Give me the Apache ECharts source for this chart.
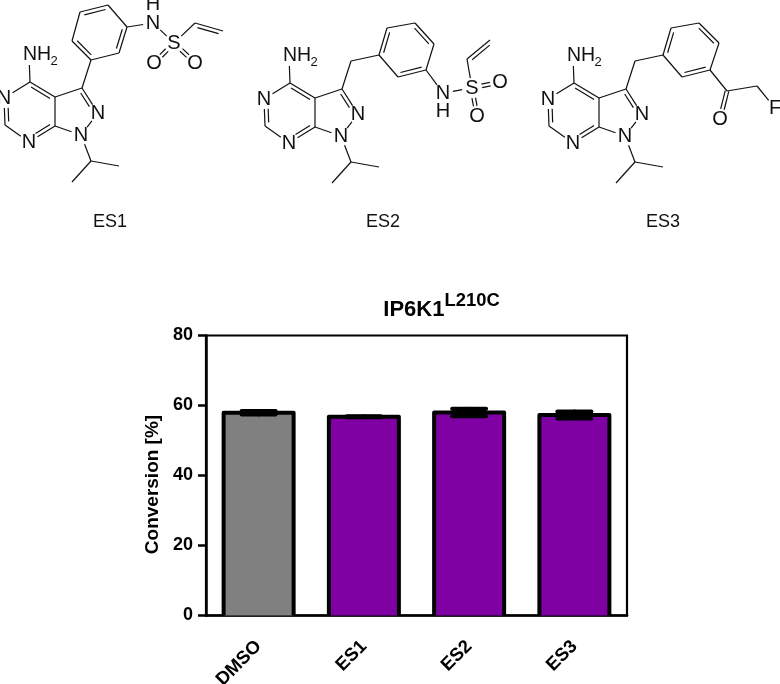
<!DOCTYPE html>
<html><head><meta charset="utf-8">
<style>html,body{margin:0;padding:0;background:#fff}#c{width:780px;height:684px}</style>
<script src="https://cdn.jsdelivr.net/npm/echarts@6/dist/echarts.min.js"></script>
</head><body><div id="c"></div>
<script>
var categories = ['DMSO', 'ES1', 'ES2', 'ES3'];
var conversion = [57.9, 56.8, 58.0, 57.3];
var errors = [0.5, 0.15, 1.1, 1.0];
var barColors = ['#808080', '#7F00A3', '#7F00A3', '#7F00A3'];
var yTicks = [0, 20, 40, 60, 80];
var compoundNames = ['ES1', 'ES2', 'ES3'];

var FONT = '"Liberation Sans", Arial, sans-serif';
var INK = '#111';

// Shared heteroaromatic core drawn for each compound (pixel layout of the illustration)
function core(dx, dy) {
  var p = {
    c4: [30, 82], n5: [4, 98], c6: [5, 125], n7: [29, 142], c7a: [55, 126], c3a: [55, 97],
    c3: [82, 88], n2: [98, 113], n1: [81, 135], ch: [91, 161], me1: [72, 182], me2: [119, 166],
    nh2: [29, 55]
  };
  var out = {};
  for (var k in p) out[k] = [p[k][0] + dx, p[k][1] + dy];
  return out;
}
var pyr = ['c4', 'n5', 'c6', 'n7', 'c7a', 'c3a'];
var pzl = ['c3', 'n2', 'n1', 'c7a', 'c3a'];
var coreLabels = { n5: 'N', n7: 'N', n2: 'N', n1: 'N' };
var coreBonds = [
  ['c4', 'n5', 1], ['n5', 'c6', 2, pyr], ['c6', 'n7', 1], ['n7', 'c7a', 2, pyr], ['c7a', 'c3a', 1],
  ['c3a', 'c4', 2, pyr], ['c3a', 'c3', 1], ['c3', 'n2', 2, pzl], ['n2', 'n1', 1], ['n1', 'c7a', 1],
  ['n1', 'ch', 1], ['ch', 'me1', 1], ['ch', 'me2', 1], ['c4', 'nh2', 1]
];
var ph = ['a', 'b', 'c', 'd', 'e', 'f'];
var phBonds = [
  ['a', 'b', 2, ph], ['b', 'c', 1], ['c', 'd', 2, ph], ['d', 'e', 1], ['e', 'f', 2, ph], ['f', 'a', 1]
];
var molecules = [
  { dx: 0, dy: 0, name: [110, 222],
    atoms: { a: [91, 60], b: [72, 41], c: [80, 12], d: [108, 5], e: [127, 27], f: [119, 53],
             n: [153, 23], s: [174, 43], o1: [154, 63], o2: [195, 63], v1: [195, 23], v2: [223, 31] },
    labels: { n: 'N', s: 'S', o1: 'O', o2: 'O' }, extra: [['H', 153, 4]],
    bonds: [['c3', 'a', 1], ['e', 'n', 1], ['n', 's', 1], ['s', 'o1', 2, 'c'], ['s', 'o2', 2, 'c'], ['s', 'v1', 1], ['v1', 'v2', 2, [[205, 40]]]] },
  { dx: 260, dy: 1, name: [383, 222],
    atoms: { ch2: [351, 61], a: [379, 55], b: [387, 28], c: [415, 23], d: [434, 44], e: [426, 70], f: [398, 77],
             n: [443, 93], s: [472, 88], o1: [500, 82], o2: [477, 116], v1: [467, 59], v2: [490, 40] },
    labels: { n: 'N', s: 'S', o1: 'O', o2: 'O' }, extra: [['H', 443, 111]],
    bonds: [['c3', 'ch2', 1], ['ch2', 'a', 1], ['e', 'n', 1], ['n', 's', 1], ['s', 'o1', 2, 'c'], ['s', 'o2', 2, 'c'], ['s', 'v1', 1], ['v1', 'v2', 2, [[500, 60]]]] },
  { dx: 544, dy: 1, name: [663, 222],
    atoms: { ch2: [635, 61], a: [663, 55], b: [671, 28], c: [699, 23], d: [719, 43], e: [710, 70], f: [682, 77],
             co: [727, 91], o: [720, 119], ch2f: [757, 86], F: [775, 108] },
    labels: { o: 'O', F: 'F' }, extra: [],
    bonds: [['c3', 'ch2', 1], ['ch2', 'a', 1], ['e', 'co', 1], ['co', 'o', 2, 'c'], ['co', 'ch2f', 1], ['ch2f', 'F', 1]] }
];

function seg(a, b) {
  return { type: 'line', silent: true, z: 5,
    shape: { x1: a[0], y1: a[1], x2: b[0], y2: b[1] },
    style: { stroke: INK, lineWidth: 1.2 } };
}
function txt(s, x, y, size, align) {
  return { type: 'text', silent: true, z: 6, x: x, y: y,
    style: { text: s, fill: INK, fontFamily: FONT, fontSize: size, align: align || 'center', verticalAlign: 'middle' } };
}
function trim(a, b, ta, tb) {
  var dx = b[0] - a[0], dy = b[1] - a[1], L = Math.hypot(dx, dy);
  return [[a[0] + dx * ta / L, a[1] + dy * ta / L], [b[0] - dx * tb / L, b[1] - dy * tb / L]];
}
function moleculeGraphics(m) {
  var P = Object.assign(core(m.dx, m.dy), m.atoms);
  var labels = Object.assign({}, coreLabels, m.labels, { nh2: 'NH' });
  var els = [];
  coreBonds.concat(phBonds, m.bonds).forEach(function (bd) {
    var a = P[bd[0]], b = P[bd[1]];
    var ta = labels[bd[0]] ? 10 : 0, tb = labels[bd[1]] ? 10 : 0;
    var s = trim(a, b, ta, tb);
    if (bd[2] === 1) { els.push(seg(s[0], s[1])); return; }
    var dx = b[0] - a[0], dy = b[1] - a[1], L = Math.hypot(dx, dy);
    var nx = -dy / L, ny = dx / L;
    if (bd[3] === 'c') {
      var o = 1.8;
      els.push(seg([s[0][0] + nx * o, s[0][1] + ny * o], [s[1][0] + nx * o, s[1][1] + ny * o]));
      els.push(seg([s[0][0] - nx * o, s[0][1] - ny * o], [s[1][0] - nx * o, s[1][1] - ny * o]));
      return;
    }
    els.push(seg(s[0], s[1]));
    var pts = bd[3].map(function (k) { return typeof k === 'string' ? P[k] : k; });
    var cx = 0, cy = 0;
    pts.forEach(function (q) { cx += q[0]; cy += q[1]; });
    cx /= pts.length; cy /= pts.length;
    var side = ((cx - a[0]) * nx + (cy - a[1]) * ny) > 0 ? 1 : -1;
    var off = 3.8 * side;
    var s2 = trim(a, b, Math.max(ta, 3.5), Math.max(tb, 3.5));
    els.push(seg([s2[0][0] + nx * off, s2[0][1] + ny * off], [s2[1][0] + nx * off, s2[1][1] + ny * off]));
  });
  Object.keys(labels).forEach(function (k) {
    if (!P[k]) return;
    if (k === 'nh2') {
      els.push(txt('NH', P[k][0] - 6, P[k][1], 19.5, 'left'));
      els.push(txt('2', P[k][0] + 21.5, P[k][1] + 6, 13, 'left'));
    } else {
      els.push(txt(labels[k], P[k][0], P[k][1], 20));
    }
  });
  m.extra.forEach(function (e) { els.push(txt(e[0], e[1], e[2], 20)); });
  return els;
}
var structureGraphics = [];
molecules.forEach(function (m, i) {
  structureGraphics = structureGraphics.concat(moleculeGraphics(m));
  structureGraphics.push(txt(compoundNames[i], m.name[0], m.name[1], 18));
});

var chart = echarts.init(document.getElementById('c'), null, { renderer: 'canvas' });
chart.setOption({
  animation: false,
  backgroundColor: '#fff',
  title: {
    text: '{a|IP6K1}{b|L210C}', left: 436.5, top: 288, textAlign: 'center',
    textStyle: { rich: {
      a: { fontFamily: FONT, fontWeight: 'bold', fontSize: 22, color: '#000', lineHeight: 28, padding: [6, 0, 0, 0] },
      b: { fontFamily: FONT, fontWeight: 'bold', fontSize: 18.4, color: '#000', lineHeight: 22, padding: [0, 0, 12, 0] }
    } }
  },
  grid: { left: 206, right: 153, top: 335.5, bottom: 68.5, outerBoundsMode: 'none', show: true, borderColor: '#000', borderWidth: 2.2, backgroundColor: 'transparent' },
  xAxis: {
    type: 'category', data: categories,
    axisLine: { lineStyle: { color: '#000', width: 2.5 } },
    axisTick: { alignWithLabel: true, length: 8, lineStyle: { color: '#000', width: 2.5 } },
    axisLabel: { rotate: 45, color: '#000', fontFamily: FONT, fontWeight: 'bold', fontSize: 18.5, margin: 28, interval: 0 }
  },
  yAxis: {
    type: 'value', min: yTicks[0], max: yTicks[yTicks.length - 1], interval: 20,
    name: 'Conversion [%]', nameLocation: 'middle', nameGap: 39,
    nameTextStyle: { color: '#000', fontFamily: FONT, fontWeight: 'bold', fontSize: 19, padding: [0, 18, 0, 0] },
    splitLine: { show: false },
    axisLine: { show: true, lineStyle: { color: '#000', width: 2.5 } },
    axisTick: { show: true, length: 8, lineStyle: { color: '#000', width: 2.5 } },
    axisLabel: { color: '#000', fontFamily: FONT, fontWeight: 'bold', fontSize: 18, margin: 13 }
  },
  series: [
    {
      type: 'bar', barWidth: 70,
      data: conversion.map(function (v, i) {
        return { value: v, itemStyle: { color: barColors[i] } };
      }),
      z: 2
    },
    {
      // bar outlines centred on the bar edge, plus the error bars
      type: 'custom', z: 3,
      data: conversion.map(function (v, i) { return [i, v, v - errors[i], v + errors[i]]; }),
      encode: { x: 0, y: [1, 2, 3] },
      renderItem: function (params, api) {
        var base = api.coord([api.value(0), 0]);
        var top = api.coord([api.value(0), api.value(1)]);
        var lo = api.coord([api.value(0), api.value(2)]);
        var hi = api.coord([api.value(0), api.value(3)]);
        var w = 17, hw = 35;
        var style = { stroke: '#000', lineWidth: 4, lineCap: 'round' };
        return { type: 'group', children: [
          { type: 'polyline',
            shape: { points: [[base[0] - hw, base[1]], [base[0] - hw, top[1]], [base[0] + hw, top[1]], [base[0] + hw, base[1]]] },
            style: { stroke: '#000', lineWidth: 4, lineJoin: 'round', lineCap: 'butt', fill: 'none' } },
          { type: 'line', shape: { x1: hi[0], y1: hi[1], x2: lo[0], y2: lo[1] }, style: style },
          { type: 'line', shape: { x1: hi[0] - w, y1: hi[1], x2: hi[0] + w, y2: hi[1] }, style: style },
          { type: 'line', shape: { x1: lo[0] - w, y1: lo[1], x2: lo[0] + w, y2: lo[1] }, style: style },
          { type: 'rect', shape: { x: hi[0] - w, y: hi[1], width: 2 * w, height: lo[1] - hi[1] }, style: { fill: '#000' } }
        ] };
      }
    }
  ],
  graphic: { elements: structureGraphics }
});
</script></body></html>
